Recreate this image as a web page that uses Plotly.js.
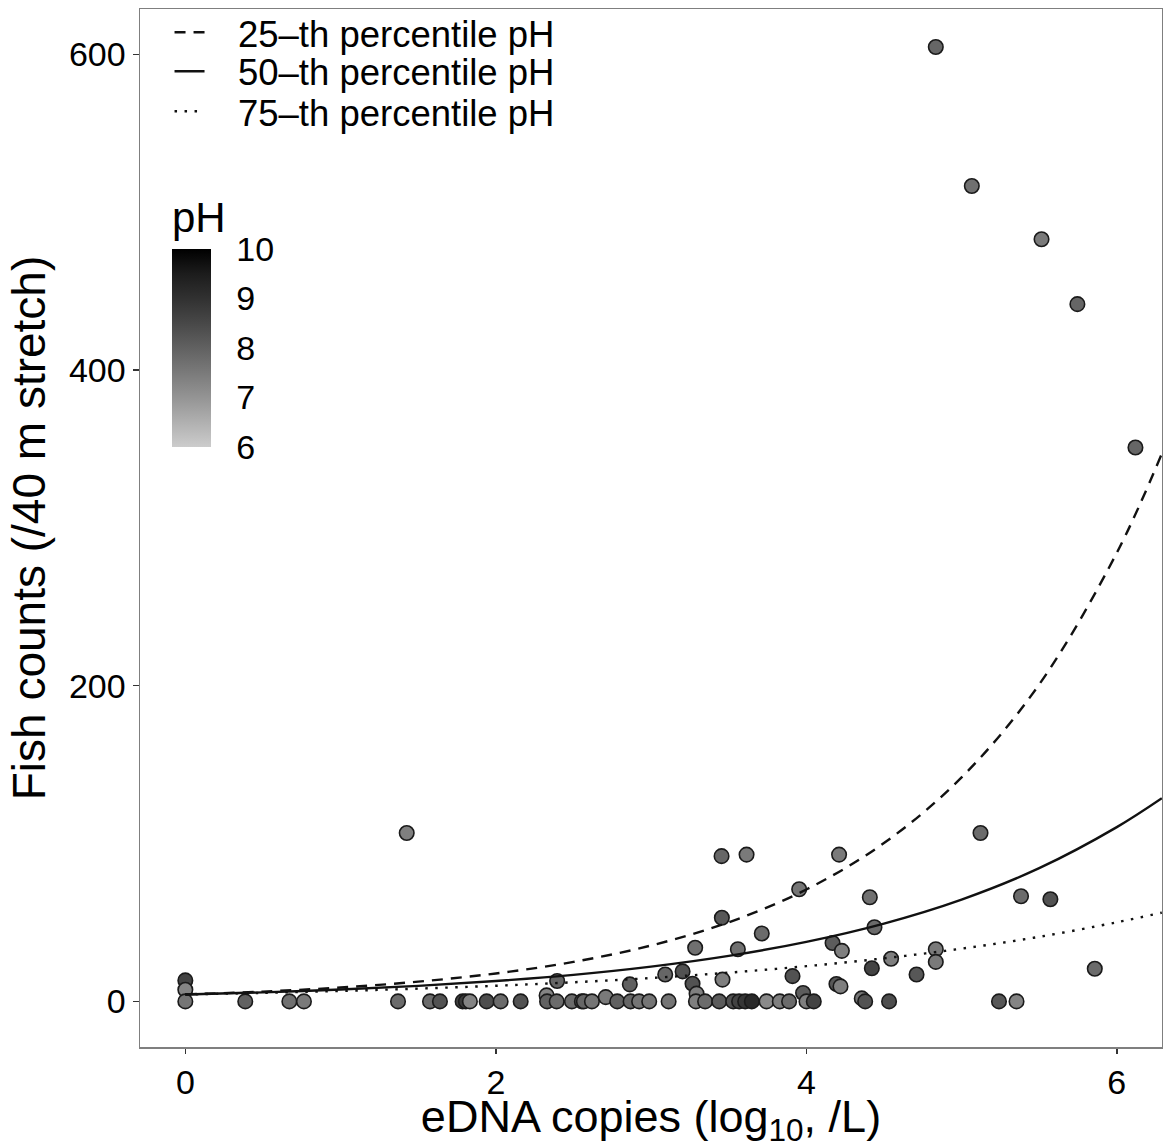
<!DOCTYPE html>
<html>
<head>
<meta charset="utf-8">
<script src="https://cdn.plot.ly/plotly-3.0.1.min.js"></script>
<style>html,body{margin:0;padding:0;background:#fff}#chart{width:1163px;height:1148px}</style>
</head>
<body>
<div id="chart"></div>
<script>
// Observed points: eDNA copies (log10 /L), fish counts, pH
const ednaLog = [
  0, 0, 0, 0.386, 0.670, 0.764, 1.370, 1.576, 1.640, 1.786, 1.807, 1.833, 1.941, 2.031, 2.160, 1.426,
  2.327, 2.33, 2.392, 2.395, 2.490, 2.554, 2.567, 2.619, 2.708, 2.782, 2.868, 2.863, 2.923, 2.988,
  3.113, 3.091, 3.203, 3.267, 3.293, 3.289, 3.348, 3.439, 3.460, 3.529, 3.567, 3.606, 3.649, 3.744,
  3.829, 3.889, 3.911, 3.979, 4.001, 4.048,
  3.284, 3.454, 3.615, 4.211, 3.954, 4.409, 3.456, 4.439, 3.713, 3.559, 4.169, 4.229, 4.834, 4.834,
  4.546, 4.422, 4.710, 4.194, 4.220, 4.357, 4.379, 4.533, 5.241, 5.354,
  4.834, 5.066, 5.515, 5.746, 6.120, 5.122, 5.383, 5.572, 5.858
];
const fishCounts = [
  13.3, 7.4, 0, 0, 0, 0, 0, 0, 0, 0, 0, 0, 0, 0, 0, 106.7,
  3.8, 0, 0, 12.9, 0, 0, 0, 0, 2.7, 0, 0, 10.8, 0, 0,
  0, 17, 19, 11.2, 4.9, 0, 0, 0, 13.8, 0, 0, 0, 0, 0,
  0, 0, 16, 5.3, 0, 0,
  34, 92, 93, 93, 71, 66, 53, 47, 43, 33, 37, 32, 33, 25,
  27, 21, 17, 11, 9.5, 1.9, 0, 0, 0, 0,
  604.6, 516.6, 482.8, 441.7, 350.9, 106.7, 66.6, 64.7, 20.7
];
const phValues = [
  8.6, 7.3, 7.6, 8.0, 7.7, 7.5, 7.8, 7.8, 8.3, 8.6, 8.8, 7.3, 8.4, 7.8, 8.3, 7.4,
  7.3, 8.0, 7.8, 7.9, 7.8, 8.2, 7.9, 7.6, 7.5, 8.0, 7.9, 8.0, 7.6, 7.6,
  7.6, 7.9, 8.3, 8.3, 7.4, 7.4, 7.8, 8.1, 7.4, 8.3, 8.6, 8.9, 9.2, 7.2,
  7.4, 7.8, 8.3, 8.1, 7.4, 8.6,
  7.7, 7.9, 7.5, 7.5, 7.6, 7.7, 8.2, 7.8, 7.8, 7.7, 8.1, 7.4, 7.5, 7.5,
  7.4, 8.6, 8.2, 8.2, 7.4, 7.6, 8.3, 8.4, 8.2, 7.3,
  7.9, 7.7, 7.5, 7.9, 7.9, 7.8, 7.8, 8.3, 7.8
];

// Fitted curves
const curveX = [0, 0.5, 1, 1.5, 2, 2.5, 3, 3.5, 4, 4.5, 5, 5.5, 6, 6.29];
const fit25 = [4.4, 6.2, 8.8, 12.5, 17.7, 25.0, 35.4, 50.1, 70.9, 100.3, 141.9, 200.8, 284.2, 347];
const fit50 = [4.4, 5.7, 7.5, 9.8, 12.9, 16.8, 22.0, 28.8, 37.7, 49.3, 64.5, 84.4, 110.4, 128.7];
const fit75 = [4.4, 5.4, 6.6, 8.1, 9.9, 12.1, 14.8, 18.2, 22.3, 27.3, 33.4, 40.9, 50.1, 56.2];

const xTicks = [0, 2, 4, 6];
const yTicks = [0, 200, 400, 600];
const phTicks = [6, 7, 8, 9, 10];
const legendNames = ['25\u2013th percentile pH', '50\u2013th percentile pH', '75\u2013th percentile pH'];

const FONT = 'Liberation Sans, Arial, Helvetica, sans-serif';
const greyScale = [
  [0, 'rgb(204,204,204)'], [0.125, 'rgb(176,176,176)'], [0.25, 'rgb(148,148,148)'],
  [0.375, 'rgb(122,122,122)'], [0.5, 'rgb(97,97,97)'], [0.625, 'rgb(72,72,72)'],
  [0.75, 'rgb(49,49,49)'], [0.875, 'rgb(28,28,28)'], [1, 'rgb(0,0,0)']
];

const points = {
  x: ednaLog, y: fishCounts, type: 'scatter', mode: 'markers', showlegend: false,
  marker: {
    color: phValues, colorscale: greyScale, cmin: 6, cmax: 10, size: 14.5,
    line: {color: '#1a1a1a', width: 1.6},
    showscale: true,
    colorbar: {
      title: {text: 'pH', side: 'top', font: {family: FONT, size: 42, color: '#000'}},
      x: 0.0313, xanchor: 'left', xref: 'paper', xpad: 0,
      y: 0.578, yanchor: 'bottom', ypad: 0,
      len: 250, lenmode: 'pixels', thickness: 39, thicknessmode: 'pixels',
      outlinewidth: 0, tickvals: phTicks, ticktext: phTicks.map(String),
      ticks: 'outside', ticklen: 19, tickcolor: 'rgba(0,0,0,0)',
      tickfont: {family: FONT, size: 34, color: '#000'}, bgcolor: 'rgba(0,0,0,0)'
    }
  },
  hoverinfo: 'skip'
};
const GAP = '\u2002\u00a0';
const lineStyle = (d) => ({color: '#111', width: 2.4, dash: d, shape: 'spline'});
const l25 = {x: curveX, y: fit25, type: 'scatter', mode: 'lines', name: GAP + legendNames[0], legend: 'legend', line: lineStyle('11px,8px')};
const l50 = {x: curveX, y: fit50, type: 'scatter', mode: 'lines', name: GAP + legendNames[1], legend: 'legend2', line: lineStyle('solid')};
const l75 = {x: curveX, y: fit75, type: 'scatter', mode: 'lines', name: GAP + legendNames[2], legend: 'legend3', line: lineStyle('2.5px,7.5px')};

const legendBase = (yy) => ({
  x: 0.0289, y: yy, xanchor: 'left', yanchor: 'top',
  bgcolor: 'rgba(0,0,0,0)', borderwidth: 0,
  font: {family: FONT, size: 36.5, color: '#000'},
  itemwidth: 30
});

const axisCommon = {
  showgrid: false, zeroline: false, showline: true, mirror: true,
  linecolor: '#7f7f7f', linewidth: 1.5,
  ticks: 'outside', ticklen: 6, tickwidth: 1.5, tickcolor: '#333',
  tickfont: {family: FONT, size: 34, color: '#000'}
};

const layout = {
  width: 1163, height: 1148,
  margin: {l: 140, r: 1, t: 9, b: 101},
  paper_bgcolor: '#fff', plot_bgcolor: '#fff',
  font: {family: FONT, color: '#000'},
  showlegend: true,
  legend: legendBase(1.0067),
  legend2: legendBase(0.9692),
  legend3: legendBase(0.9306),
  xaxis: Object.assign({}, axisCommon, {
    range: [-0.292, 6.291], tickvals: xTicks, ticktext: xTicks.map(String),
    ticklen: 5,
    title: {text: 'eDNA copies (log<sub>10</sub>, /L)', font: {family: FONT, size: 45, color: '#000'}, standoff: 13}
  }),
  yaxis: Object.assign({}, axisCommon, {
    range: [-28.9, 628.7], tickvals: yTicks, ticktext: yTicks.map(String),
    title: {text: 'Fish counts (/40 m stretch)', font: {family: FONT, size: 46, color: '#000'}, standoff: 9}
  })
};

Plotly.newPlot('chart', [points, l25, l50, l75], layout, {displayModeBar: false, staticPlot: true});
</script>
</body>
</html>
